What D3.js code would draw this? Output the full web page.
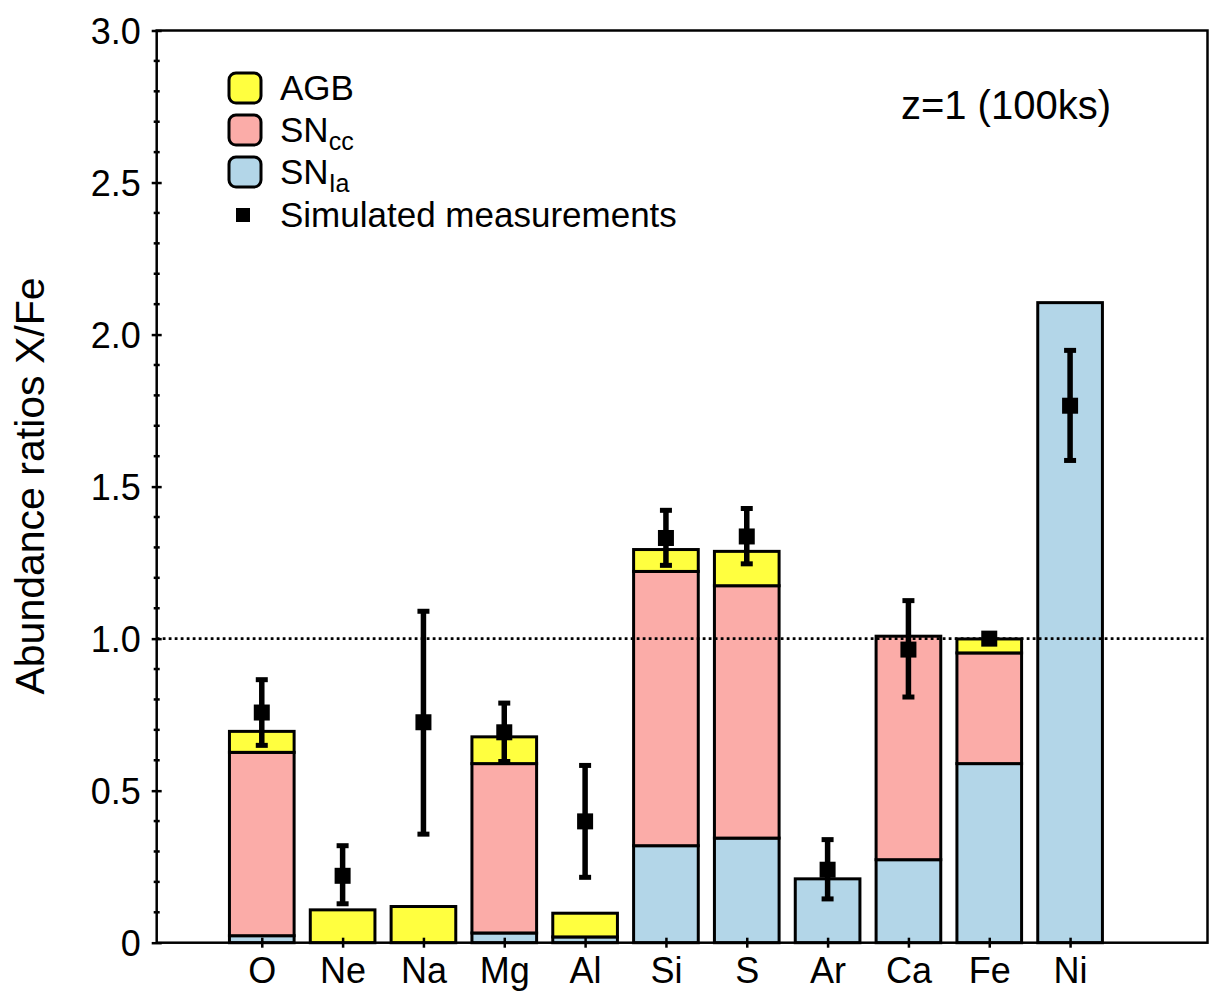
<!DOCTYPE html>
<html lang="en">
<head>
    <meta charset="UTF-8">
    <title>Abundance ratios</title>
    <script src="https://d3js.org/d3.v7.min.js"></script>
    <style>
        body { margin: 0; background: #fff; }
        text { font-family: Helvetica, Arial, "Liberation Sans", sans-serif; fill: #000; }
    </style>
</head>
<body>
<svg id="chart" width="1220" height="1004"></svg>

<script>
    // element categories
    const elements = ["O", "Ne", "Na", "Mg", "Al", "Si", "S", "Ar", "Ca", "Fe", "Ni"];
    // model contributions (stacked: SNIa at the bottom, then SNcc, then AGB)
    const snIa = [0.023, 0, 0, 0.032, 0.019, 0.319, 0.344, 0.210, 0.273, 0.589, 2.105];
    const snCC = [0.603, 0, 0, 0.557, 0, 0.902, 0.830, 0, 0.735, 0.364, 0];
    const agb  = [0.069, 0.108, 0.119, 0.088, 0.078, 0.072, 0.113, 0, 0, 0.046, 0];
    // simulated measurements with error range
    const measured = [0.757, 0.220, 0.725, 0.692, 0.399, 1.331, 1.336, 0.240, 0.964, 1.000, 1.766];
    const errLow   = [0.649, 0.128, 0.357, 0.596, 0.215, 1.241, 1.246, 0.144, 0.808, 0.998, 1.586];
    const errHigh  = [0.865, 0.319, 1.090, 0.788, 0.583, 1.422, 1.428, 0.339, 1.125, 1.002, 1.948];
    const yTicks = [0, 0.5, 1.0, 1.5, 2.0, 2.5, 3.0];

    const COLORS = {snIa: "#b3d6e8", snCC: "#fbaca8", agb: "#ffff3f"};
    const TICK_FONT = 36;
    const LEGEND_FONT = 35;

    const svg = d3.select("#chart");
    const LEFT = 156.7, RIGHT = 1207.5, TOP = 30.5, BOTTOM = 942.7;

    const x = d3.scaleLinear().domain([-1.3, 11.7]).range([LEFT, RIGHT]);
    const y = d3.scaleLinear().domain([0, 3]).range([BOTTOM, TOP]);
    const barW = x(0.8) - x(0);

    // stacked bars
    const table = elements.map((el, i) => ({el: el, i: i, snIa: snIa[i], snCC: snCC[i], agb: agb[i]}));
    const stack = d3.stack().keys(["snIa", "snCC", "agb"])(table);

    stack.forEach((layer) => {
        svg.append("g")
            .selectAll("rect")
            .data(layer.filter(d => d[1] - d[0] > 0))
            .enter()
            .append("rect")
            .attr("x", d => x(d.data.i) - barW / 2)
            .attr("width", barW)
            .attr("y", d => y(d[1]))
            .attr("height", d => y(d[0]) - y(d[1]))
            .attr("fill", COLORS[layer.key])
            .attr("stroke", "#000")
            .attr("stroke-width", 3);
    });

    // reference line at X/Fe = 1
    svg.append("line")
        .attr("x1", LEFT).attr("x2", RIGHT)
        .attr("y1", y(1)).attr("y2", y(1))
        .attr("stroke", "#000")
        .attr("stroke-width", 2.8)
        .attr("stroke-dasharray", "2.8,3.2");

    // error bars
    const errG = svg.append("g");
    elements.forEach((el, i) => {
        errG.append("line")
            .attr("x1", x(i)).attr("x2", x(i))
            .attr("y1", y(errLow[i])).attr("y2", y(errHigh[i]))
            .attr("stroke", "#000").attr("stroke-width", 5.5);
        [errLow[i], errHigh[i]].forEach((v) => {
            errG.append("line")
                .attr("x1", x(i) - 6).attr("x2", x(i) + 6)
                .attr("y1", y(v)).attr("y2", y(v))
                .attr("stroke", "#000").attr("stroke-width", 5);
        });
    });

    // markers
    svg.append("g")
        .selectAll("rect")
        .data(measured)
        .enter()
        .append("rect")
        .attr("x", (d, i) => x(i) - 8)
        .attr("y", d => y(d) - 8)
        .attr("width", 16)
        .attr("height", 16)
        .attr("fill", "#000");

    // axes
    const yAxis = d3.axisLeft(y).tickValues(yTicks).tickSize(5).tickPadding(11)
        .tickFormat(d => d === 0 ? "0" : d3.format(".1f")(d));
    const gy = svg.append("g").attr("transform", `translate(${LEFT},0)`).call(yAxis);
    gy.select(".domain").remove();
    gy.selectAll("line").attr("x1", 5).attr("x2", -5).attr("stroke-width", 2.5);
    gy.selectAll("text").style("font-size", TICK_FONT + "px").attr("dy", "0.36em");

    // minor ticks every 0.1
    const minor = d3.range(1, 30).map(d => d / 10).filter(d => Math.round(d * 10) % 5 !== 0);
    svg.append("g")
        .selectAll("line")
        .data(minor)
        .enter()
        .append("line")
        .attr("x1", LEFT - 3).attr("x2", LEFT + 3)
        .attr("y1", d => y(d)).attr("y2", d => y(d))
        .attr("stroke", "#000").attr("stroke-width", 2.5);

    const xAxis = d3.axisBottom(x).tickValues(d3.range(elements.length)).tickSize(5).tickPadding(10)
        .tickFormat(i => elements[i]);
    const gx = svg.append("g").attr("transform", `translate(0,${BOTTOM})`).call(xAxis);
    gx.select(".domain").remove();
    gx.selectAll("line").attr("y1", -5).attr("y2", 5).attr("stroke-width", 2.5);
    gx.selectAll("text").style("font-size", TICK_FONT + "px");

    // frame
    svg.append("rect")
        .attr("x", LEFT).attr("y", TOP)
        .attr("width", RIGHT - LEFT).attr("height", BOTTOM - TOP)
        .attr("fill", "none").attr("stroke", "#000").attr("stroke-width", 2.5);

    // y label
    svg.append("text")
        .attr("transform", `translate(44,486) rotate(-90)`)
        .attr("text-anchor", "middle")
        .style("font-size", "41px")
        .text("Abundance ratios X/Fe");

    // annotation
    svg.append("text")
        .attr("x", 1111).attr("y", 119)
        .attr("text-anchor", "end")
        .style("font-size", "40px")
        .text("z=1 (100ks)");

    // legend
    const legend = svg.append("g");
    const rows = [
        {key: "agb", main: "AGB", sub: ""},
        {key: "snCC", main: "SN", sub: "cc"},
        {key: "snIa", main: "SN", sub: "Ia"}
    ];
    rows.forEach((r, k) => {
        const cy = 88 + k * 42;
        legend.append("rect")
            .attr("x", 229).attr("y", cy - 15)
            .attr("width", 32).attr("height", 30)
            .attr("rx", 7)
            .attr("fill", COLORS[r.key])
            .attr("stroke", "#000").attr("stroke-width", 3);
        const t = legend.append("text")
            .attr("x", 280).attr("y", cy + 12)
            .style("font-size", LEGEND_FONT + "px");
        t.append("tspan").text(r.main);
        if (r.sub) {
            t.append("tspan").attr("dy", 8).style("font-size", "25px").text(r.sub);
        }
    });
    legend.append("rect")
        .attr("x", 236).attr("y", 208)
        .attr("width", 14).attr("height", 14)
        .attr("fill", "#000");
    legend.append("text")
        .attr("x", 280).attr("y", 227)
        .style("font-size", LEGEND_FONT + "px")
        .text("Simulated measurements");
</script>
</body>
</html>
